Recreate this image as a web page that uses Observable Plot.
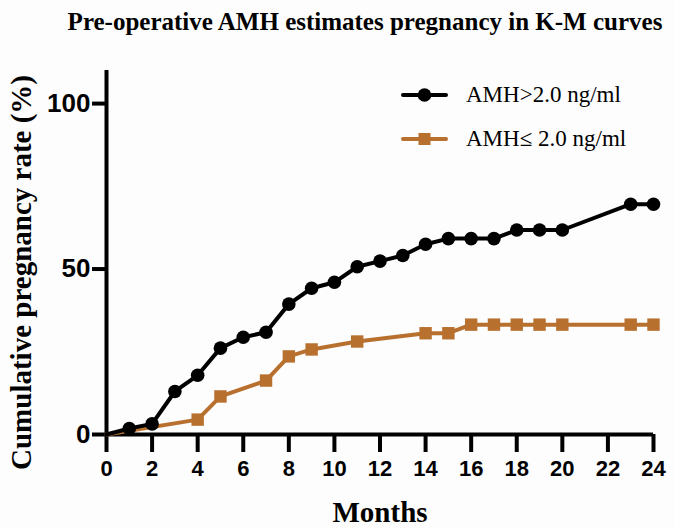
<!DOCTYPE html>
<html>
<head>
<meta charset="utf-8">
<script src="https://cdn.jsdelivr.net/npm/d3@7"></script>
<script src="https://cdn.jsdelivr.net/npm/@observablehq/plot@0.6"></script>
<style>
  html, body { margin: 0; padding: 0; background: #fdfdfd; }
  #wrap { position: relative; width: 675px; height: 528px; }
  #title { height: 45px; position: relative; }
  #title span { position: absolute; left: 55px; width: 620px; top: 8px; text-align: center;
    font: bold 25px "Liberation Serif", "Times New Roman", serif; line-height: 28px; color: #000; white-space: nowrap; }
  #legend { position: absolute; left: 400px; top: 80px; font: 23px "Liberation Serif", "Times New Roman", serif; color: #000; }
  .item { position: relative; height: 44px; }
  .item svg { position: absolute; left: 0; top: 0; }
  .item span { position: absolute; left: 66px; top: 0; line-height: 30px; white-space: nowrap; }
</style>
</head>
<body>
<div id="wrap">
  <div id="title"><span></span></div>
  <div id="chart"></div>
  <div id="legend"></div>
</div>
<script>
const titleText = "Pre-operative AMH estimates pregnancy in K-M curves";
const xLabel = "Months";
const yLabel = "Cumulative pregnancy rate (%)";
const seriesNames = ["AMH>2.0 ng/ml", "AMH\u2264 2.0 ng/ml"];
const seriesColors = ["#000000", "#b8702f"];

const highMonths = [0, 1, 2, 3, 4, 5, 6, 7, 8, 9, 10, 11, 12, 13, 14, 15, 16, 17, 18, 19, 20, 23, 24];
const highRates  = [0, 1.8, 3.2, 13, 17.9, 26.1, 29.4, 30.9, 39.4, 44.2, 46, 50.7, 52.4, 54.1, 57.5, 59.2, 59.2, 59.2, 61.8, 61.8, 61.8, 69.6, 69.6];

const lowMonths = [0, 4, 5, 7, 8, 9, 11, 14, 15, 16, 17, 18, 19, 20, 23, 24];
const lowRates  = [0, 4.5, 11.5, 16.3, 23.6, 25.7, 28.1, 30.6, 30.6, 33.2, 33.2, 33.2, 33.2, 33.2, 33.2, 33.2];

const xTicks = [0, 2, 4, 6, 8, 10, 12, 14, 16, 18, 20, 22, 24];
const yTicks = [0, 50, 100];

const high = highMonths.map((m, i) => ({month: m, rate: highRates[i]}));
const low = lowMonths.map((m, i) => ({month: m, rate: lowRates[i]}));

document.querySelector("#title span").textContent = titleText;

const serif = "Liberation Serif, Times New Roman, serif";
const sans = "Liberation Sans, Arial, Helvetica, sans-serif";

const plot = Plot.plot({
  width: 675,
  height: 483,
  marginTop: 25,
  marginBottom: 94,
  marginLeft: 106,
  marginRight: 22,
  style: {background: "transparent", color: "#000", overflow: "visible"},
  x: {domain: [0, 24]},
  y: {domain: [0, 110]},
  marks: [
    Plot.axisX({ticks: xTicks, tickSize: 18, tickPadding: 8, strokeWidth: 4, fontSize: 22, fontWeight: "bold", fontFamily: sans, label: null}),
    Plot.axisY({ticks: yTicks, tickSize: 14, tickPadding: 2, strokeWidth: 4, fontSize: 26, fontWeight: "bold", fontFamily: sans, label: null}),
    Plot.ruleY([0], {stroke: "#000", strokeWidth: 4}),
    Plot.ruleX([0], {stroke: "#000", strokeWidth: 4}),
    Plot.line(low, {x: "month", y: "rate", stroke: seriesColors[1], strokeWidth: 4}),
    Plot.dot(low.filter(d => d.month > 0), {x: "month", y: "rate", symbol: "square", r: 7, fill: seriesColors[1], stroke: "none"}),
    Plot.line(high, {x: "month", y: "rate", stroke: seriesColors[0], strokeWidth: 4}),
    Plot.dot(high.filter(d => d.month > 0), {x: "month", y: "rate", r: 6.8, fill: seriesColors[0], stroke: "none"}),
    Plot.text([xLabel], {frameAnchor: "bottom", dy: 78, fontSize: 29, fontWeight: "bold", fontFamily: serif, lineAnchor: "middle", textAnchor: "middle"}),
    Plot.text([yLabel], {frameAnchor: "left", dx: -85, dy: 20, rotate: -90, fontSize: 29, fontWeight: "bold", fontFamily: serif, lineAnchor: "middle", textAnchor: "middle"})
  ]
});
document.getElementById("chart").appendChild(plot);

const legend = document.getElementById("legend");
seriesNames.forEach((name, i) => {
  const item = document.createElement("div");
  item.className = "item";
  const col = seriesColors[i];
  const icon = i === 0
    ? `<circle cx="24.5" cy="15" r="6.8" fill="${col}"/>`
    : `<rect x="18.5" y="9" width="12" height="12" fill="${col}"/>`;
  item.innerHTML = `<svg width="52" height="30"><line x1="3" x2="46" y1="15" y2="15" stroke="${col}" stroke-width="4" stroke-linecap="round"/>${icon}</svg><span></span>`;
  item.querySelector("span").textContent = name;
  legend.appendChild(item);
});
</script>
</body>
</html>
